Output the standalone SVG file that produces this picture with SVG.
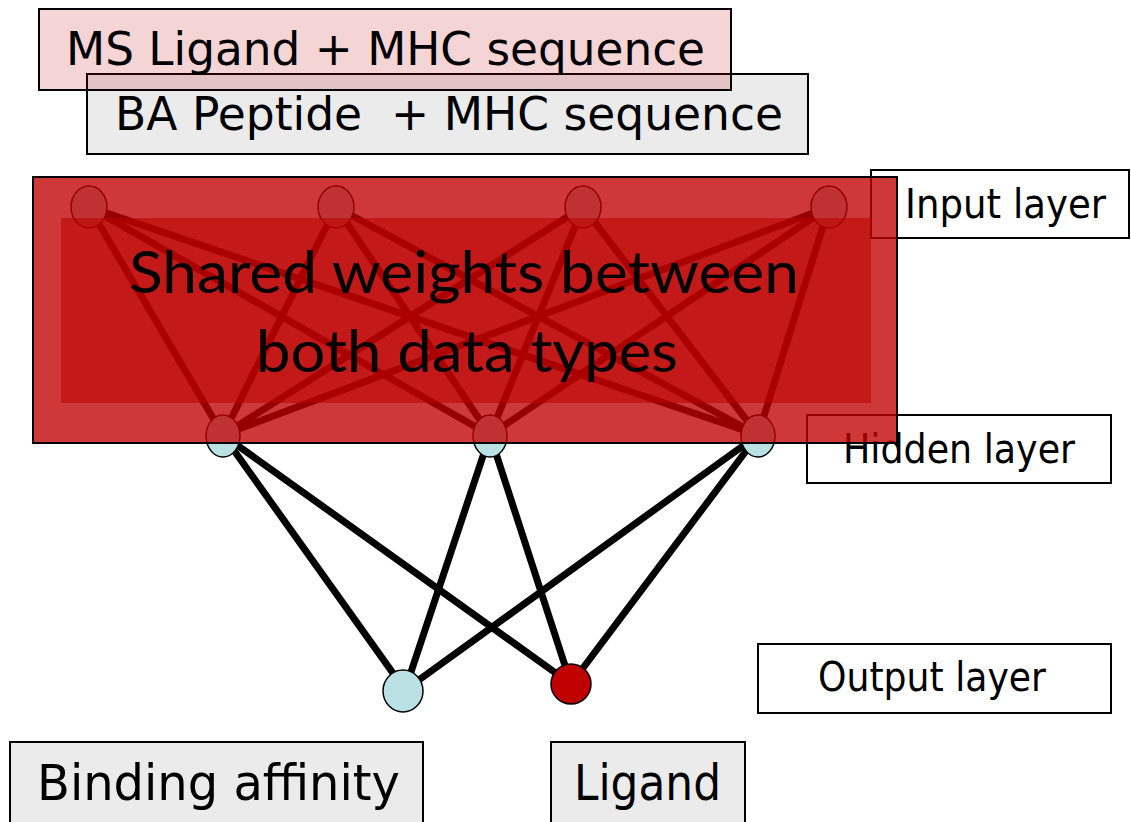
<svg xmlns="http://www.w3.org/2000/svg" width="1131" height="822" viewBox="0 0 1131 822">
<style>
.box{stroke:#000;stroke-width:2}
.lbl{font-family:"DejaVu Sans",sans-serif;fill:#000;white-space:pre}
.e1{stroke:#000;stroke-width:7;stroke-linecap:round}
.blue{fill:#b9e0e3;stroke:#000;stroke-width:1.5}
.red{fill:#c00000;stroke:#000;stroke-width:1.5}
.shared{font-family:Lato,"Open Sans",sans-serif;font-size:58px;fill:#000}
</style>
<rect width="1131" height="822" fill="#fff"/>
<g id="ba-input">
<rect class="box" x="87" y="74" width="721" height="80" fill="#ebebeb"/>
<text class="lbl" x="115" y="130" font-size="46" textLength="668" lengthAdjust="spacingAndGlyphs">BA Peptide  + MHC sequence</text>
</g>
<g id="ms-input">
<rect class="box" x="39" y="9" width="692" height="81" fill="#c00000" fill-opacity="0.17"/>
<text class="lbl" x="66" y="65" font-size="47" textLength="639" lengthAdjust="spacingAndGlyphs">MS Ligand + MHC sequence</text>
</g>
<g id="input-layer-label">
<rect class="box" x="871" y="170" width="258" height="68" fill="#fff"/>
<text class="lbl" x="905" y="218" font-size="40" textLength="201" lengthAdjust="spacingAndGlyphs">Input layer</text>
</g>
<g id="hidden-layer-label">
<rect class="box" x="807" y="415" width="304" height="68" fill="#fff"/>
<text class="lbl" x="843" y="463" font-size="40" textLength="232" lengthAdjust="spacingAndGlyphs">Hidden layer</text>
</g>
<g id="output-layer-label">
<rect class="box" x="758" y="644" width="353" height="69" fill="#fff"/>
<text class="lbl" x="818" y="691" font-size="40" textLength="228" lengthAdjust="spacingAndGlyphs">Output layer</text>
</g>
<g id="binding-affinity">
<rect class="box" x="10" y="742" width="413" height="90" fill="#ebebeb"/>
<text class="lbl" x="37" y="800" font-size="50" textLength="363" lengthAdjust="spacingAndGlyphs">Binding affinity</text>
</g>
<g id="ligand">
<rect class="box" x="551" y="742" width="194" height="90" fill="#ebebeb"/>
<text class="lbl" x="574" y="800" font-size="50" textLength="147" lengthAdjust="spacingAndGlyphs">Ligand</text>
</g>
<g id="connectors">
<line class="e1" x1="89" y1="207" x2="223" y2="435"/>
<line class="e1" x1="89" y1="207" x2="490" y2="435"/>
<line class="e1" x1="89" y1="207" x2="758" y2="435"/>
<line class="e1" x1="336" y1="207" x2="223" y2="435"/>
<line class="e1" x1="336" y1="207" x2="490" y2="435"/>
<line class="e1" x1="336" y1="207" x2="758" y2="435"/>
<line class="e1" x1="583" y1="207" x2="223" y2="435"/>
<line class="e1" x1="583" y1="207" x2="490" y2="435"/>
<line class="e1" x1="583" y1="207" x2="758" y2="435"/>
<line class="e1" x1="829" y1="207" x2="223" y2="435"/>
<line class="e1" x1="829" y1="207" x2="490" y2="435"/>
<line class="e1" x1="829" y1="207" x2="758" y2="435"/>
<line class="e1" x1="223" y1="435" x2="405" y2="690"/>
<line class="e1" x1="223" y1="435" x2="571" y2="684"/>
<line class="e1" x1="490" y1="435" x2="405" y2="690"/>
<line class="e1" x1="490" y1="435" x2="571" y2="684"/>
<line class="e1" x1="758" y1="435" x2="405" y2="690"/>
<line class="e1" x1="758" y1="435" x2="571" y2="684"/>
</g>
<g id="in1"><ellipse class="blue" cx="89" cy="207" rx="18" ry="21"/></g>
<g id="in2"><ellipse class="blue" cx="336" cy="207" rx="18" ry="21"/></g>
<g id="in3"><ellipse class="blue" cx="583" cy="207" rx="18" ry="21"/></g>
<g id="in4"><ellipse class="blue" cx="829" cy="207" rx="18" ry="21"/></g>
<g id="h1"><ellipse class="blue" cx="223" cy="436" rx="17" ry="21"/></g>
<g id="h2"><ellipse class="blue" cx="490" cy="436" rx="17" ry="21"/></g>
<g id="h3"><ellipse class="blue" cx="758" cy="436" rx="17" ry="21"/></g>
<g id="out-ba"><ellipse class="blue" cx="403" cy="691" rx="20" ry="21"/></g>
<g id="out-ligand"><ellipse class="red" cx="571" cy="684" rx="20" ry="20"/></g>
<g id="shared-weights">
<rect x="33" y="177" width="864" height="266" fill="#c00000" fill-opacity="0.78" stroke="#000" stroke-width="2"/>
<rect x="61" y="218" width="810" height="185" fill="#bc0000" fill-opacity="0.55"/>
<text class="shared" x="129" y="293" textLength="670" lengthAdjust="spacingAndGlyphs">Shared weights between</text>
<text class="shared" x="256" y="372" textLength="422" lengthAdjust="spacingAndGlyphs">both data types</text>
</g>
</svg>
